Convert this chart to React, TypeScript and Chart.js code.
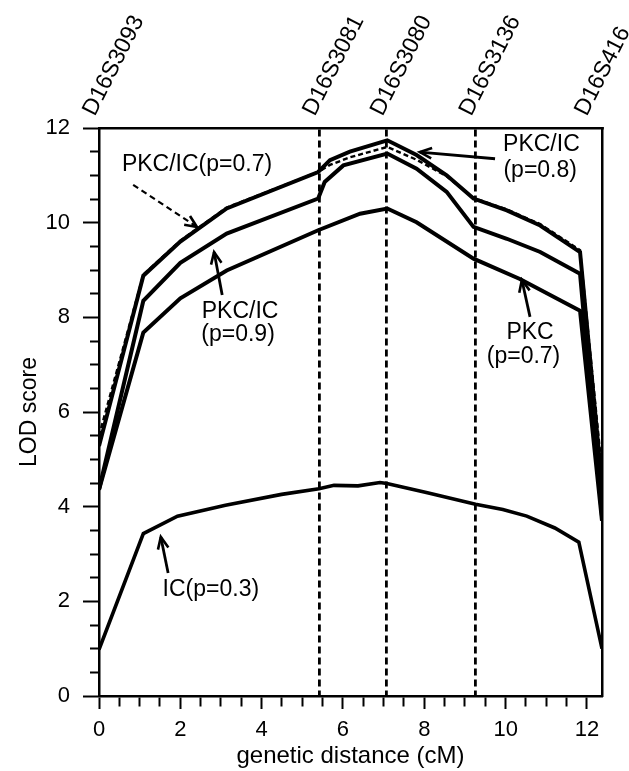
import React, { useEffect, useRef } from "react";
import { Chart, registerables } from "chart.js";

Chart.register(...registerables);

// ---- data ----
const markerNames = ["D16S3093", "D16S3081", "D16S3080", "D16S3136", "D16S416"];
const markerPositions = [0, 5.41, 7.08, 9.26, 12.1];

const xMin = 0;
const xMax = 12.37;
const yMin = 0;
const yMax = 12;

// PKC/IC (p=0.8) – top solid
const p08X = [0, 1.09, 2.0, 3.14, 5.39, 5.68, 6.17, 7.09, 7.81, 8.55, 9.21, 10.03, 10.85, 11.83, 12.37];
const p08Y = [5.28, 8.88, 9.6, 10.3, 11.07, 11.32, 11.5, 11.74, 11.43, 11.0, 10.51, 10.26, 9.94, 9.38, 4.45];

// PKC/IC (p=0.7) – dashed
const p07X = [0, 1.09, 2.0, 3.14, 5.39, 5.68, 6.17, 7.09, 7.81, 8.55, 9.21, 10.03, 10.85, 11.83, 12.37];
const p07Y = [5.5, 8.9, 9.62, 10.32, 11.07, 11.22, 11.38, 11.6, 11.33, 10.98, 10.52, 10.28, 9.97, 9.42, 4.75];

// PKC/IC (p=0.9)
const p09X = [0, 1.09, 2.0, 3.14, 5.39, 5.55, 6.01, 7.09, 7.81, 8.55, 9.21, 10.03, 10.85, 11.83, 12.37];
const p09Y = [4.36, 8.35, 9.15, 9.77, 10.51, 10.86, 11.21, 11.46, 11.14, 10.65, 9.91, 9.66, 9.38, 8.92, 3.8];

// PKC (p=0.7)
const pkcX = [0, 1.09, 2.0, 3.14, 5.39, 6.42, 7.09, 7.81, 9.21, 10.35, 11.83, 12.37];
const pkcY = [4.36, 7.68, 8.4, 8.99, 9.84, 10.19, 10.3, 10.01, 9.24, 8.81, 8.14, 3.7];

// IC (p=0.3)
const icX = [0, 1.09, 1.93, 3.11, 4.49, 5.41, 5.78, 6.37, 6.91, 7.08, 8.05, 9.26, 9.93, 10.52, 11.21, 11.8, 12.37];
const icY = [0.98, 3.43, 3.8, 4.03, 4.26, 4.38, 4.45, 4.44, 4.51, 4.49, 4.3, 4.05, 3.94, 3.8, 3.55, 3.25, 1.0];

// ---- annotations (in data units) ----
const annoTexts = [
  { text: "PKC/IC(p=0.7)", x: 2.41, y: 11.22 },
  { text: "PKC/IC", x: 3.47, y: 8.12 },
  { text: "(p=0.9)", x: 3.42, y: 7.63 },
  { text: "PKC/IC", x: 10.88, y: 11.64 },
  { text: "(p=0.8)", x: 10.85, y: 11.1 },
  { text: "PKC", x: 10.6, y: 7.67 },
  { text: "(p=0.7)", x: 10.44, y: 7.16 },
  { text: "IC(p=0.3)", x: 2.75, y: 2.24 },
];

const annoArrows = [
  { x1: 0.84, y1: 10.8, x2: 2.41, y2: 9.91, dashed: true },
  { x1: 3.03, y1: 8.47, x2: 2.83, y2: 9.38, dashed: false },
  { x1: 9.74, y1: 11.35, x2: 7.89, y2: 11.49, dashed: false },
  { x1: 10.6, y1: 8.01, x2: 10.4, y2: 8.79, dashed: false },
  { x1: 1.7, y1: 2.6, x2: 1.52, y2: 3.36, dashed: false },
];

const FONT = '"Liberation Sans", Arial, Helvetica, sans-serif';

const zip = (xs: number[], ys: number[]) => xs.map((x, i) => ({ x, y: ys[i] }));

const whiteBg = {
  id: "whiteBg",
  beforeDraw(chart: any) {
    const { ctx, width, height } = chart;
    ctx.save();
    ctx.fillStyle = "#ffffff";
    ctx.fillRect(0, 0, width, height);
    ctx.restore();
  },
};

const markerLabels = {
  id: "markerLabels",
  afterDraw(chart: any) {
    const { ctx, chartArea, scales } = chart;
    const xs = scales.x;
    ctx.save();
    ctx.font = `23px ${FONT}`;
    ctx.fillStyle = "#000";
    ctx.textAlign = "left";
    ctx.textBaseline = "middle";
    markerNames.forEach((name, i) => {
      const px = xs.getPixelForValue(markerPositions[i]);
      ctx.save();
      ctx.translate(px - 10, chartArea.top - 14);
      ctx.rotate((-63 * Math.PI) / 180);
      ctx.fillText(name, 0, 0);
      ctx.restore();
    });
    ctx.restore();
  },
};

function drawArrow(ctx: CanvasRenderingContext2D, x1: number, y1: number, x2: number, y2: number, dashed: boolean) {
  ctx.save();
  ctx.strokeStyle = "#000";
  ctx.lineWidth = dashed ? 2.2 : 2.8;
  ctx.setLineDash(dashed ? [6, 4] : []);
  ctx.beginPath();
  ctx.moveTo(x1, y1);
  ctx.lineTo(x2, y2);
  ctx.stroke();
  ctx.setLineDash([]);
  ctx.lineWidth = 2.6;
  const ang = Math.atan2(y2 - y1, x2 - x1);
  const L = 13;
  const a = 0.42;
  ctx.beginPath();
  ctx.moveTo(x2 - L * Math.cos(ang - a), y2 - L * Math.sin(ang - a));
  ctx.lineTo(x2, y2);
  ctx.lineTo(x2 - L * Math.cos(ang + a), y2 - L * Math.sin(ang + a));
  ctx.stroke();
  ctx.restore();
}

const annotations = {
  id: "annotations",
  afterDraw(chart: any) {
    const { ctx, scales } = chart;
    const xs = scales.x;
    const ys = scales.y;
    ctx.save();
    ctx.font = `23px ${FONT}`;
    ctx.fillStyle = "#000";
    ctx.textAlign = "center";
    ctx.textBaseline = "middle";
    annoTexts.forEach((t) => {
      ctx.fillText(t.text, xs.getPixelForValue(t.x), ys.getPixelForValue(t.y));
    });
    annoArrows.forEach((a) => {
      drawArrow(
        ctx,
        xs.getPixelForValue(a.x1),
        ys.getPixelForValue(a.y1),
        xs.getPixelForValue(a.x2),
        ys.getPixelForValue(a.y2),
        a.dashed
      );
    });
    ctx.restore();
  },
};

export default function App() {
  const ref = useRef<HTMLCanvasElement | null>(null);

  useEffect(() => {
    if (!ref.current) return;
    const solid = (label: string, xs: number[], ys: number[], w: number) => ({
      label,
      data: zip(xs, ys),
      showLine: true,
      borderColor: "#000",
      backgroundColor: "#000",
      borderWidth: w,
      pointRadius: 0,
      borderJoinStyle: "miter" as const,
      fill: false,
    });
    const isMajor = (v: number) => Math.abs(v % 2) < 1e-9;
    const chart = new Chart(ref.current, {
      type: "scatter",
      data: {
        datasets: [
          { ...solid("PKC/IC (p=0.7)", p07X, p07Y, 2.4), borderDash: [5, 3] },
          solid("PKC/IC (p=0.8)", p08X, p08Y, 4),
          solid("PKC/IC (p=0.9)", p09X, p09Y, 4),
          solid("PKC (p=0.7)", pkcX, pkcY, 4),
          solid("IC (p=0.3)", icX, icY, 3.6),
        ],
      },
      options: {
        animation: false,
        responsive: false,
        devicePixelRatio: 1,
        layout: { padding: 0 },
        plugins: {
          legend: { display: false },
          tooltip: { enabled: false },
        },
        scales: {
          x: {
            type: "linear",
            position: "bottom",
            min: xMin,
            max: xMax,
            afterFit: (s: any) => {
              s.height = 75;
            },
            ticks: {
              stepSize: 0.5,
              includeBounds: false,
              autoSkip: false,
              maxRotation: 0,
              minRotation: 0,
              padding: 8,
              color: "#000",
              font: { family: FONT, size: 22 },
              callback: (v: any) => (isMajor(v) ? String(v) : ""),
            },
            grid: {
              drawOnChartArea: false,
              drawTicks: true,
              tickLength: 13,
              tickWidth: 2,
              tickColor: "#000",
              tickBorderDash: (ctx: any) => (ctx.tick && isMajor(ctx.tick.value) ? [] : [9, 100]),
            },
            border: { display: true, color: "#000", width: 2.5 },
            title: {
              display: true,
              text: "genetic distance (cM)",
              color: "#000",
              font: { family: FONT, size: 24 },
              padding: { top: 0, bottom: 0 },
            },
          },
          xTop: {
            type: "linear",
            position: "top",
            min: xMin,
            max: xMax,
            afterBuildTicks: (s: any) => {
              s.ticks = markerPositions.slice(1, -1).map((v) => ({ value: v }));
            },
            afterFit: (s: any) => {
              s.height = 128;
            },
            ticks: { display: false },
            grid: {
              drawOnChartArea: true,
              drawTicks: false,
              color: "#000",
              lineWidth: 2.8,
            },
            border: { display: true, color: "#000", width: 2.5, dash: [7, 4] },
          },
          y: {
            type: "linear",
            position: "left",
            min: yMin,
            max: yMax,
            afterFit: (s: any) => {
              s.width = 99;
            },
            ticks: {
              stepSize: 0.5,
              autoSkip: false,
              padding: 13,
              color: "#000",
              font: { family: FONT, size: 22 },
              callback: (v: any) => (isMajor(v) ? String(v) : ""),
            },
            grid: {
              drawOnChartArea: false,
              drawTicks: true,
              tickLength: 16,
              tickWidth: 2,
              tickColor: "#000",
              tickBorderDash: (ctx: any) => (ctx.tick && isMajor(ctx.tick.value) ? [] : [0, 7, 9, 100]),
            },
            border: { display: true, color: "#000", width: 2.5 },
            title: {
              display: true,
              text: "LOD score",
              color: "#000",
              font: { family: FONT, size: 23 },
              padding: { top: 16, bottom: 0 },
            },
          },
          yRight: {
            type: "linear",
            position: "right",
            min: yMin,
            max: yMax,
            afterFit: (s: any) => {
              s.width = 27;
            },
            ticks: { display: false },
            grid: { drawOnChartArea: false, drawTicks: false },
            border: { display: true, color: "#000", width: 2.5 },
          },
        },
      },
      plugins: [whiteBg, markerLabels, annotations],
    });
    return () => chart.destroy();
  }, []);

  return (
    <div style={{ position: "absolute", left: 0, top: 0, width: 629, height: 771, background: "#fff" }}>
      <canvas ref={ref} width={629} height={771} style={{ display: "block" }} />
    </div>
  );
}
